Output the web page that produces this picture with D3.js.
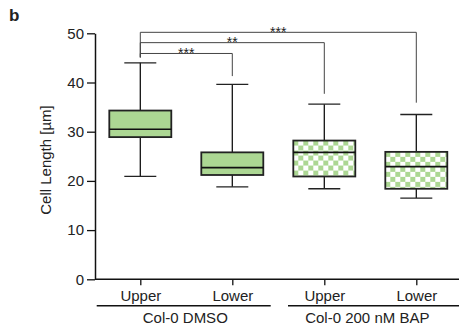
<!DOCTYPE html>
<html>
<head>
<meta charset="utf-8">
<script src="https://cdn.jsdelivr.net/npm/d3@7"></script>
<style>
  body { margin: 0; background: #fff; }
  text { font-family: Arial, "Liberation Sans", Helvetica, sans-serif; fill: #222; }
</style>
</head>
<body>
<div id="chart"></div>
<script>
const width = 459, height = 333;

// data
const categories = ["Upper", "Lower", "Upper ", "Lower "];
const groups = ["Col-0 DMSO", "Col-0 200 nM BAP"];
const groupOf = [0, 0, 1, 1];
const whiskerLow = [20.9, 18.8, 18.4, 16.5];
const q1 = [28.9, 21.2, 20.9, 18.4];
const median = [30.5, 22.7, 25.8, 22.9];
const q3 = [34.3, 25.8, 28.2, 25.9];
const whiskerHigh = [44.0, 39.6, 35.6, 33.5];
const checkered = [false, false, true, true];
const yTicks = [0, 10, 20, 30, 40, 50];

// significance brackets: from box 0 to box `to`
const sigTo = [1, 2, 3];
const sigLevel = [45.9, 48.1, 50.2];
const sigDrop = [41.3, 37.7, 35.9];
const sigStars = ["***", "**", "***"];
const sigLeftEnd = 45.1;

const green = "#acd793";

var svg = d3.select("#chart")
  .append("svg")
  .attr("width", width)
  .attr("height", height);

const y = d3.scaleLinear().domain([0, 50]).range([279.3, 33.3]);
const x = d3.scalePoint().domain(categories).range([140.3, 416.3]);
const axisX0 = 95;

// checker patterns, one per box so it lines up with the box corner
const defs = svg.append("defs");
categories.forEach((c, i) => {
  if (!checkered[i]) return;
  const p = defs.append("pattern")
    .attr("id", "chk" + i)
    .attr("patternUnits", "userSpaceOnUse")
    .attr("x", x(c) - 31)
    .attr("y", y(q3[i]))
    .attr("width", 10)
    .attr("height", 10);
  p.append("rect").attr("width", 10).attr("height", 10).attr("fill", "#fff");
  p.append("rect").attr("x", 0).attr("y", 0).attr("width", 5).attr("height", 5).attr("fill", green);
  p.append("rect").attr("x", 5).attr("y", 5).attr("width", 5).attr("height", 5).attr("fill", green);
});

// y axis
const yAxis = svg.append("g")
  .attr("transform", `translate(${axisX0},0)`)
  .call(d3.axisLeft(y).tickValues(yTicks).tickSize(8).tickPadding(3).tickSizeOuter(0));
yAxis.select(".domain").attr("stroke", "#111").attr("stroke-width", 1.5);
yAxis.selectAll(".tick line").attr("stroke", "#111").attr("stroke-width", 1.3);
yAxis.selectAll(".tick text")
  .style("font-size", "15px")
  .attr("fill", "#222");

// x axis
const xAxis = svg.append("g")
  .attr("transform", `translate(0,${y(0)})`)
  .call(d3.axisBottom(x).tickSize(6).tickPadding(5).tickSizeOuter(0));
xAxis.select(".domain").remove();
xAxis.append("line")
  .attr("x1", axisX0).attr("x2", width)
  .attr("stroke", "#111").attr("stroke-width", 1.5);
xAxis.selectAll(".tick line").attr("stroke", "#111").attr("stroke-width", 1.3);
xAxis.selectAll(".tick text")
  .style("font-size", "15px")
  .attr("fill", "#222")
  .text(d => d.trim());

// group underlines + labels
const groupSpan = [[96.7, 270.7], [288, 459]];
groups.forEach((g, gi) => {
  const members = categories.filter((c, i) => groupOf[i] === gi);
  const cx = d3.mean(members, c => x(c));
  svg.append("line")
    .attr("x1", groupSpan[gi][0]).attr("x2", groupSpan[gi][1])
    .attr("y1", 305.7).attr("y2", 305.7)
    .attr("stroke", "#111").attr("stroke-width", 1.6);
  svg.append("text")
    .attr("x", gi === 0 ? cx - 1 : cx - 3)
    .attr("y", 323)
    .attr("text-anchor", "middle")
    .style("font-size", "15px")
    .text(g);
});

// y title
svg.append("text")
  .attr("transform", "translate(51,160) rotate(-90)")
  .attr("text-anchor", "middle")
  .style("font-size", "15px")
  .attr("fill", "#333")
  .text("Cell Length [µm]");

// panel letter
svg.append("text")
  .attr("x", 9).attr("y", 21)
  .style("font-size", "17px")
  .style("font-weight", "bold")
  .attr("fill", "#111")
  .text("b");

// boxes
const boxW = 62, capW = 32;
const box = svg.append("g").selectAll("g")
  .data(categories)
  .enter().append("g");

box.append("line")
  .attr("x1", d => x(d)).attr("x2", d => x(d))
  .attr("y1", (d, i) => y(whiskerLow[i]))
  .attr("y2", (d, i) => y(whiskerHigh[i]))
  .attr("stroke", "#111").attr("stroke-width", 1.3);
box.append("line")
  .attr("x1", d => x(d) - capW / 2).attr("x2", d => x(d) + capW / 2)
  .attr("y1", (d, i) => y(whiskerLow[i])).attr("y2", (d, i) => y(whiskerLow[i]))
  .attr("stroke", "#222").attr("stroke-width", 1.3);
box.append("line")
  .attr("x1", d => x(d) - capW / 2).attr("x2", d => x(d) + capW / 2)
  .attr("y1", (d, i) => y(whiskerHigh[i])).attr("y2", (d, i) => y(whiskerHigh[i]))
  .attr("stroke", "#222").attr("stroke-width", 1.3);
box.append("rect")
  .attr("x", d => x(d) - boxW / 2)
  .attr("y", (d, i) => y(q3[i]))
  .attr("width", boxW)
  .attr("height", (d, i) => y(q1[i]) - y(q3[i]))
  .attr("fill", (d, i) => checkered[i] ? "url(#chk" + i + ")" : green)
  .attr("stroke", "#222").attr("stroke-width", 1.8);
box.append("line")
  .attr("x1", d => x(d) - boxW / 2).attr("x2", d => x(d) + boxW / 2)
  .attr("y1", (d, i) => y(median[i])).attr("y2", (d, i) => y(median[i]))
  .attr("stroke", "#111").attr("stroke-width", 1.6);

// significance brackets
const sig = svg.append("g");
sigTo.forEach((to, k) => {
  const x0 = x(categories[0]), x1 = x(categories[to]);
  sig.append("path")
    .attr("d", `M${x0},${y(sigLeftEnd)}V${y(sigLevel[k])}H${x1}V${y(sigDrop[k])}`)
    .attr("fill", "none")
    .attr("stroke", "#444").attr("stroke-width", 1);
  sig.append("text")
    .attr("x", (x0 + x1) / 2)
    .attr("y", y(sigLevel[k]) + 4.5)
    .attr("text-anchor", "middle")
    .style("font-size", "14px")
    .attr("fill", "#555")
    .text(sigStars[k]);
});
</script>
</body>
</html>
